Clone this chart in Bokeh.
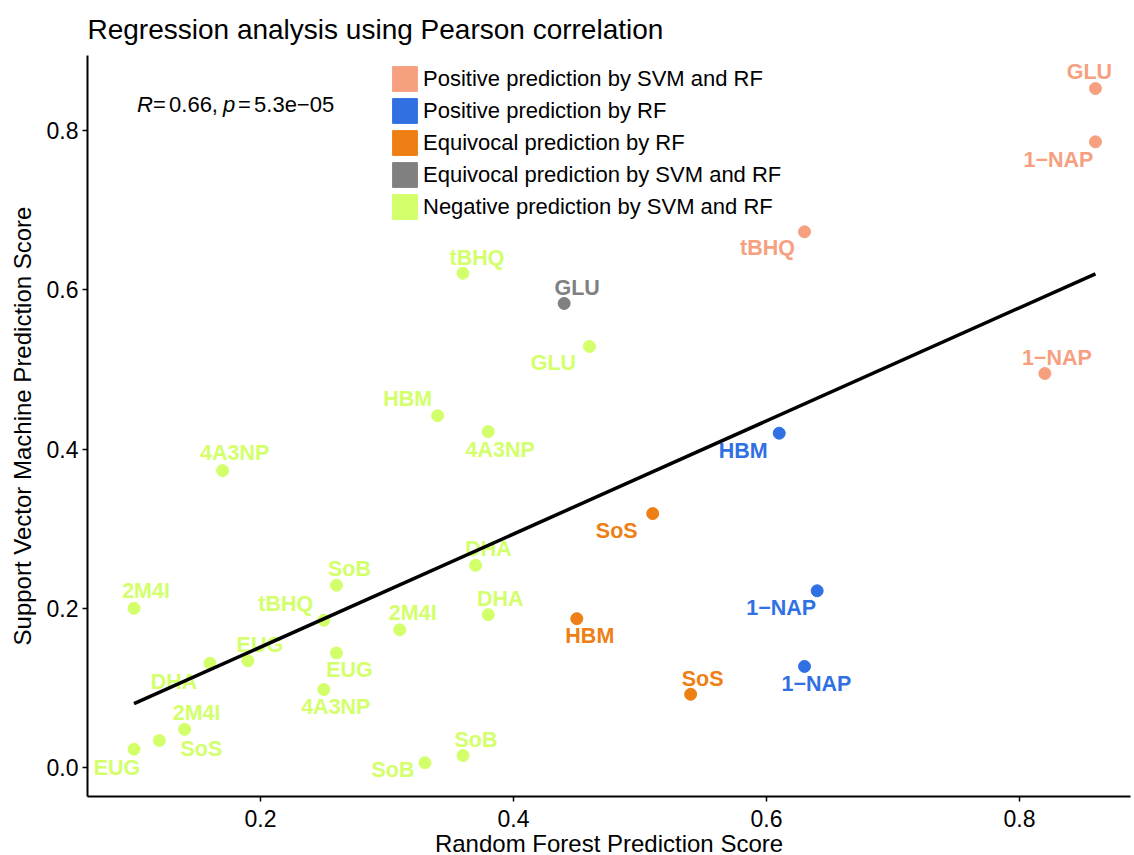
import numpy as np
from bokeh.plotting import figure
from bokeh.models import ColumnDataSource, Range1d, FixedTicker, Legend, LegendItem, Label, NumeralTickFormatter
from bokeh.core.properties import value
from bokeh.embed import file_html
from bokeh.resources import INLINE

FONT = "Liberation Sans"

categories = [
    "Positive prediction by SVM and RF",
    "Positive prediction by RF",
    "Equivocal prediction by RF",
    "Equivocal prediction by SVM and RF",
    "Negative prediction by SVM and RF",
]
category_colors = ["#F6A07F", "#3070E3", "#EE7F14", "#808080", "#D2FF6A"]

compound = ["GLU", "1\u2212NAP", "tBHQ", "1\u2212NAP",
            "HBM", "1\u2212NAP", "1\u2212NAP",
            "SoS", "HBM", "SoS",
            "GLU",
            "tBHQ", "GLU", "HBM", "4A3NP", "4A3NP", "DHA", "SoB", "DHA", "2M4I", "tBHQ",
            "2M4I", "EUG", "EUG", "DHA", "4A3NP", "2M4I", "SoS", "EUG", "SoB", "SoB"]
rf_score = [0.86, 0.86, 0.63, 0.82,
            0.61, 0.64, 0.63,
            0.51, 0.45, 0.54,
            0.44,
            0.36, 0.46, 0.34, 0.38, 0.17, 0.37, 0.26, 0.38, 0.10, 0.25,
            0.31, 0.26, 0.19, 0.16, 0.25, 0.14, 0.12, 0.10, 0.33, 0.36]
svm_score = [0.853, 0.786, 0.673, 0.495,
             0.420, 0.222, 0.127,
             0.319, 0.187, 0.092,
             0.583,
             0.621, 0.529, 0.442, 0.422, 0.373, 0.254, 0.229, 0.192, 0.200, 0.185,
             0.173, 0.144, 0.134, 0.131, 0.098, 0.048, 0.034, 0.023, 0.006, 0.015]
category_idx = [0, 0, 0, 0,
                1, 1, 1,
                2, 2, 2,
                3,
                4, 4, 4, 4, 4, 4, 4, 4, 4, 4,
                4, 4, 4, 4, 4, 4, 4, 4, 4, 4]

# label placement (screen pixel offsets from each point, repel-style layout)
label_dx = [-6, -37, -37, 12,
            -36, -36, 12,
            -36, 13, 12,
            13,
            14, -36, -30, 12, 12, 13, 13, 12, 12, -38,
            13, 13, 12, -36, 12, 12, 42, -17, -32, 13]
label_dy = [-17, 18, 16, -16,
            18, 17, 18,
            17, 17, -15,
            -15,
            -15, 17, -17, 18, -18, -16, -16, -16, -17, -16,
            -17, 17, -16, 19, 17, -16, 9, 19, 7, -16]

x_ticks = [0.2, 0.4, 0.6, 0.8]
y_ticks = [0.0, 0.2, 0.4, 0.6, 0.8]

r_value = "0.66"
p_value = "5.3e\u221205"

pt_colors = [category_colors[i] for i in category_idx]
src = ColumnDataSource(dict(x=rf_score, y=svm_score, name=compound, color=pt_colors,
                            dx=label_dx, dy=label_dy))

FRAME_W, FRAME_H = 1043, 741
p = figure(frame_width=FRAME_W, frame_height=FRAME_H,
           x_range=Range1d(0.0632, 0.8877), y_range=Range1d(-0.0364, 0.8945),
           output_backend="svg", toolbar_location=None,
           min_border_left=87, min_border_right=4, min_border_top=55, min_border_bottom=59,
           title="Regression analysis using Pearson correlation")
p.outline_line_color = None
p.xgrid.grid_line_color = None
p.ygrid.grid_line_color = None
p.background_fill_color = "white"

p.title.text_font = FONT
p.title.text_font_size = "28px"
p.title.text_font_style = "normal"
p.title.text_color = "black"
p.title.align = "left"
p.title.standoff = 22

for ax in (p.xaxis[0], p.yaxis[0]):
    ax.axis_line_width = 2
    ax.axis_line_color = "black"
    ax.major_tick_line_width = 1.5
    ax.major_tick_line_color = "black"
    ax.major_tick_out = 5
    ax.major_tick_in = 0
    ax.minor_tick_line_color = None
    ax.major_label_text_font = FONT
    ax.major_label_text_font_size = "23px"
    ax.major_label_text_color = "black"
    ax.axis_label_text_font = FONT
    ax.axis_label_text_font_size = "24px"
    ax.axis_label_text_font_style = "normal"
    ax.axis_label_text_color = "black"
    ax.formatter = NumeralTickFormatter(format="0.0")

p.xaxis[0].major_label_standoff = 8
p.xaxis[0].axis_label_standoff = 0
p.yaxis[0].major_label_standoff = 4
p.yaxis[0].axis_label_standoff = 8

p.xaxis[0].ticker = FixedTicker(ticks=x_ticks)
p.yaxis[0].ticker = FixedTicker(ticks=y_ticks)
p.xaxis[0].axis_label = "Random Forest Prediction Score"
p.yaxis[0].axis_label = "Support Vector Machine Prediction Score"

# points
p.scatter("x", "y", source=src, size=12, fill_color="color", line_color="color")

# labels
p.text("x", "y", text="name", source=src, x_offset="dx", y_offset="dy",
       text_color="color", text_font=value(FONT), text_font_size="21.5px",
       text_font_style="bold", text_align="center", text_baseline="middle")

# regression line (least squares fit of the data)
slope, intercept = np.polyfit(rf_score, svm_score, 1)
xs = [min(rf_score), max(rf_score)]
p.line(xs, [intercept + slope * v for v in xs], line_color="black", line_width=3.5)

# legend (square keys); key renderers hold no drawable data
nan = float("nan")
items = []
for cat, col in zip(categories, category_colors):
    r = p.quad(left=[nan], right=[nan], top=[nan], bottom=[nan], fill_color=col, line_color=col)
    items.append(LegendItem(label=cat, renderers=[r]))
legend = Legend(items=items, location=(302, FRAME_H - 8 - 159),
                glyph_width=31, glyph_height=31, spacing=1, padding=0, margin=0,
                label_standoff=3, label_text_font=FONT, label_text_font_size="22px",
                label_text_color="black", background_fill_alpha=0, border_line_color=None,
                label_height=31)
p.add_layout(legend)

# correlation annotation (plotmath-like pieces)
ann_pieces = [("R", "italic", 3), ("=", "normal", 19), (r_value + ",", "normal", 35),
              ("p", "italic", 89), ("=", "normal", 104), (p_value, "normal", 120)]
for txt, style, off in ann_pieces:
    p.add_layout(Label(x=0.1, y=0.833, x_offset=off, text=txt, text_font=FONT,
                       text_font_size="22px", text_font_style=style, text_color="black",
                       text_baseline="middle", text_align="left"))

open("out.html", "w").write(file_html(p, INLINE))
